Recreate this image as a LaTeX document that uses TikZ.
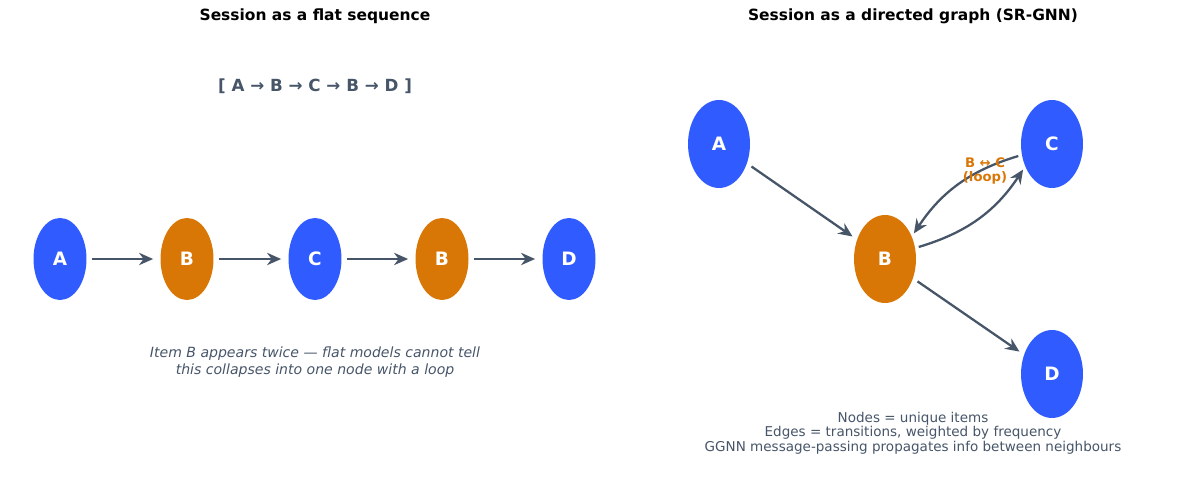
\documentclass[tikz,border=0pt]{standalone}
\usepackage{fontspec}
\setmainfont{DejaVu Sans}
\usetikzlibrary{arrows.meta,shapes.geometric}
\definecolor{nblue}{HTML}{2F5BFF}
\definecolor{norange}{HTML}{D97706}
\definecolor{agray}{HTML}{475569}
\begin{document}
\begin{tikzpicture}[x=0.02cm,y=-0.02cm,
  nd/.style={ellipse,draw=none,inner sep=0pt,text=white,font=\bfseries\fontsize{10.5}{12}\selectfont},
  small/.style={nd,minimum width=1.06cm,minimum height=1.64cm},
  big/.style={nd,minimum width=1.24cm,minimum height=1.76cm},
  arr/.style={-{Stealth[length=8pt,width=7pt]},draw=agray,line width=1.3pt},
  ttl/.style={font=\bfseries\fontsize{8.8}{10}\selectfont},
  captext/.style={text=agray,font=\fontsize{8}{9.6}\selectfont,align=center}]
\useasboundingbox (0,0) rectangle (1200,499);
\node[ttl] (t1) at (315,16) {Session as a flat sequence};
\node[ttl] (t2) at (913,16) {Session as a directed graph (SR-GNN)};
\node[text=agray,font=\bfseries\fontsize{9.5}{11}\selectfont] (seq) at (315,86) {[ A → B → C → B → D ]};
\node[small,fill=nblue] (a1) at (60,259) {A};
\node[small,fill=norange] (b1) at (187,259) {B};
\node[small,fill=nblue] (c1) at (315,259) {C};
\node[small,fill=norange] (b2) at (442,259) {B};
\node[small,fill=nblue] (d1) at (569,259) {D};
\foreach \u/\v in {a1/b1,b1/c1,c1/b2,b2/d1}
  \draw[arr,shorten <=3pt,shorten >=4pt] (\u) -- (\v);
\node[captext,font=\itshape\fontsize{8}{9.6}\selectfont] (it) at (315,362) {Item B appears twice — flat models cannot tell\\this collapses into one node with a loop};
\node[big,fill=nblue] (A) at (719,144) {A};
\node[big,fill=norange] (B) at (885,259) {B};
\node[big,fill=nblue] (C) at (1052,144) {C};
\node[big,fill=nblue] (D) at (1052,374) {D};
\draw[arr,shorten <=3pt,shorten >=3pt] (A) -- (B);
\draw[arr,shorten <=3pt,shorten >=3pt] (B) -- (D);
\draw[arr,shorten <=2pt,shorten >=2pt] (B.20) to[bend right=20] (C.220);
\draw[arr,shorten <=2pt,shorten >=2pt] (C.200) to[bend right=20] (B.40);
\node[text=norange,font=\bfseries\fontsize{7.5}{8.2}\selectfont,align=center] (lp) at (985,171) {B ↔ C\\(loop)};
\node[captext,font=\fontsize{7.7}{8.3}\selectfont] (leg) at (913,433) {Nodes = unique items\\Edges = transitions, weighted by frequency\\GGNN message-passing propagates info between neighbours};
\end{tikzpicture}
\end{document}
